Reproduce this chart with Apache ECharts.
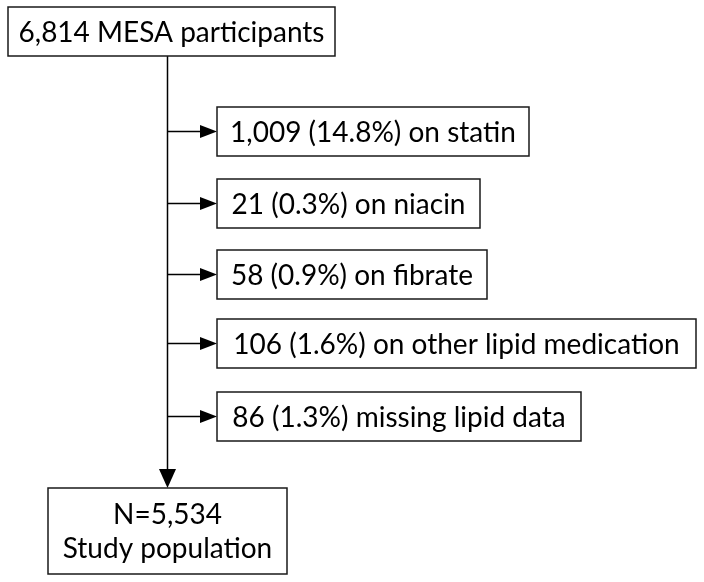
<!DOCTYPE html>
<html>
<head>
<meta charset="utf-8">
<script src="https://cdn.jsdelivr.net/npm/echarts@6/dist/echarts.min.js"></script>
<style>html,body{margin:0;padding:0;background:#fff}#c{width:704px;height:582px}</style>
</head>
<body>
<div id="c"></div>
<script>
// ---- data ----
const topCount = '6,814';
const topLabel = 'MESA participants';
const exclCounts = ['1,009', '21', '58', '106', '86'];
const exclPercents = ['14.8%', '0.3%', '0.9%', '1.6%', '1.3%'];
const exclReasons = ['on statin', 'on niacin', 'on fibrate', 'on other lipid medication', 'missing lipid data'];
const finalCount = '5,534';
const finalLabel = 'Study population';

// ---- layout (pixel-like units on hidden axes) ----
const W = 704, H = 582;
const stemX = 167.5;
const topBox = [8, 7, 335, 56];
const exclLeft = 217;
const exclTops = [107, 179, 250, 319, 392];
const exclRights = [529, 480, 487, 696, 581];
const exclH = 49;
const finalBox = [48, 488, 287, 574];

const boxes = [topBox];
const texts = [topCount + ' ' + topLabel];
exclTops.forEach((t, i) => {
  boxes.push([exclLeft, t, exclRights[i], t + exclH]);
  texts.push(exclCounts[i] + ' (' + exclPercents[i] + ') ' + exclReasons[i]);
});
boxes.push(finalBox);
texts.push('N=' + finalCount + '\n' + finalLabel);

const arrows = [[stemX, topBox[3], stemX, finalBox[1], 19, 8.5]];
exclTops.forEach(t => arrows.push([stemX, t + exclH / 2, exclLeft, t + exclH / 2, 17, 6.5]));

const FONT = '28px Lato';
const chart = echarts.init(document.getElementById('c'), null, {renderer: 'canvas'});
chart.setOption({
  animation: false,
  backgroundColor: '#fff',
  grid: {left: 0, right: 0, top: 0, bottom: 0},
  xAxis: {type: 'value', min: 0, max: W, show: false},
  yAxis: {type: 'value', min: 0, max: H, inverse: true, show: false},
  series: [
    {
      type: 'custom', clip: false, z: 1,
      data: arrows,
      encode: {x: [0, 2], y: [1, 3]},
      renderItem(params, api) {
        const a = api.coord([api.value(0), api.value(1)]);
        const b = api.coord([api.value(2), api.value(3)]);
        const len = api.value(4), hw = api.value(5);
        const dx = b[0] - a[0], dy = b[1] - a[1];
        const d = Math.sqrt(dx * dx + dy * dy);
        const ux = dx / d, uy = dy / d;
        const bx = b[0] - ux * len, by = b[1] - uy * len;
        return {type: 'group', children: [
          {type: 'line', shape: {x1: a[0], y1: a[1], x2: bx, y2: by}, style: {stroke: '#000', lineWidth: 1.5}},
          {type: 'polygon', shape: {points: [[b[0], b[1]], [bx - uy * hw, by + ux * hw], [bx + uy * hw, by - ux * hw]]}, style: {fill: '#000'}}
        ]};
      }
    },
    {
      type: 'custom', clip: false, z: 2,
      data: boxes,
      encode: {x: [0, 2], y: [1, 3]},
      renderItem(params, api) {
        const p0 = api.coord([api.value(0), api.value(1)]);
        const p1 = api.coord([api.value(2), api.value(3)]);
        return {type: 'group', children: [
          {type: 'rect', shape: {x: p0[0], y: p0[1], width: p1[0] - p0[0], height: p1[1] - p0[1]},
           style: {fill: '#fff', stroke: '#1a1a1a', lineWidth: 1.5}},
          {type: 'text', x: (p0[0] + p1[0]) / 2, y: (p0[1] + p1[1]) / 2 + 1,
           style: {text: texts[params.dataIndex], fill: '#000', font: FONT, align: 'center', verticalAlign: 'middle', lineHeight: 34}}
        ]};
      }
    }
  ]
});
</script>
</body>
</html>
